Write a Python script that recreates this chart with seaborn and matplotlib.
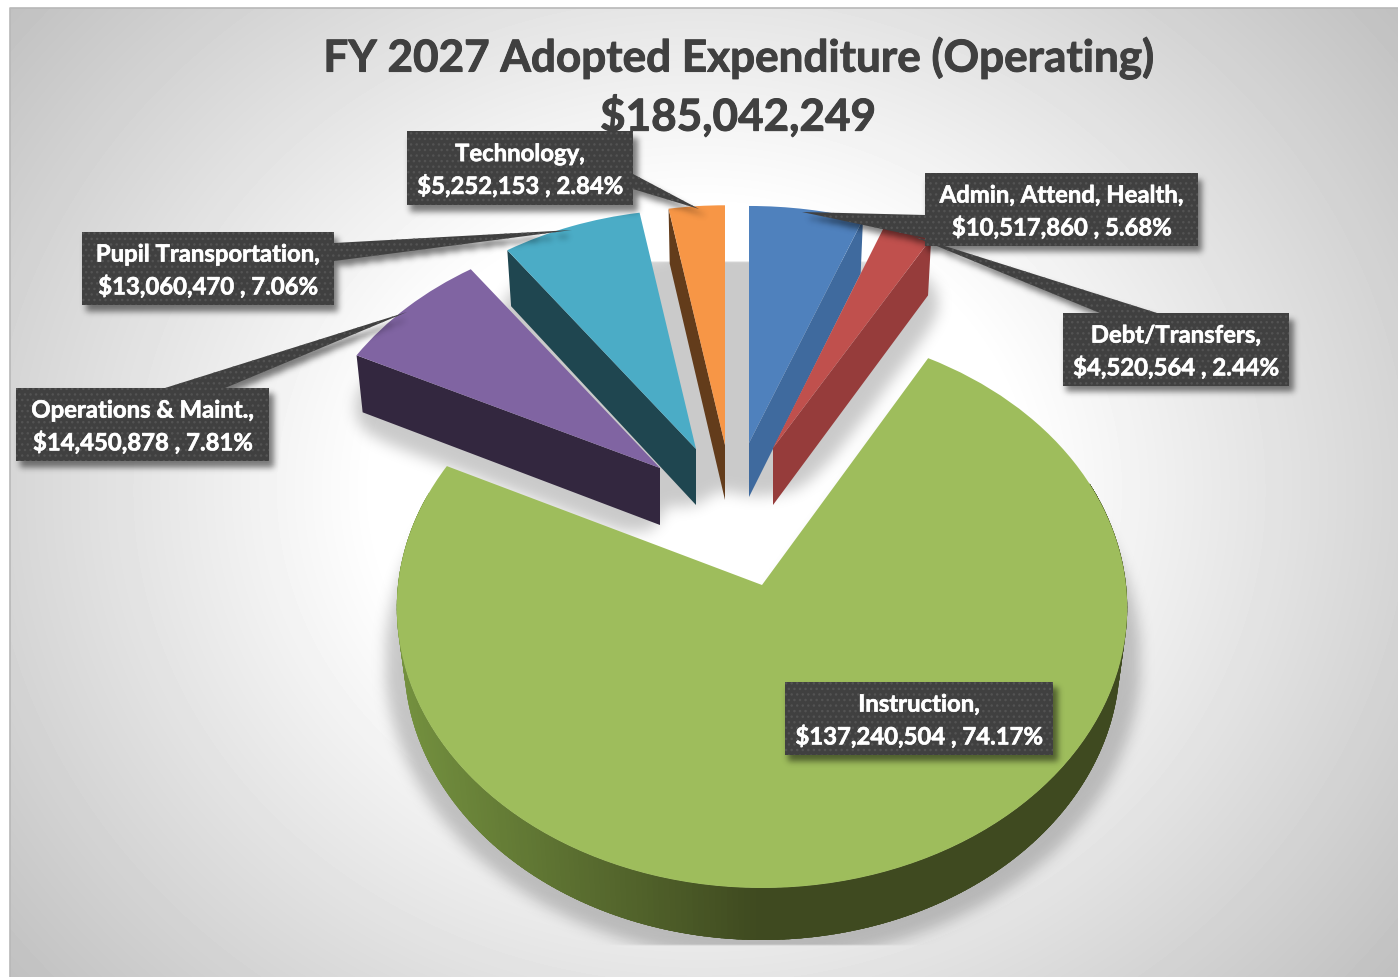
import numpy as np
import matplotlib
matplotlib.use('Agg')
import matplotlib.pyplot as plt
import matplotlib.patheffects as pe
import matplotlib.transforms as mtransforms
from matplotlib.path import Path
from matplotlib.patches import Polygon, Rectangle
import seaborn as sns

# Dados do gráfico (ordem horária a partir do topo)
categories = ['Admin, Attend, Health', 'Debt/Transfers', 'Instruction',
              'Operations & Maint.', 'Pupil Transportation', 'Technology']
amounts = [10517860, 4520564, 137240504, 14450878, 13060470, 5252153]
percents = [5.68, 2.44, 74.17, 7.81, 7.06, 2.84]
title_lines = ['FY 2027 Adopted Expenditure (Operating)', '$185,042,249']

# Cores
top_colors = ['#4f81bd', '#c0504d', '#9ebd5c', '#8064a2', '#4bacc6', '#f79646']
side_colors = ['#3f6a9e', '#963c3b', '#3f4a20', '#33273f', '#1f4650', '#633c1b']

# Layout em pixels: vértice de cada fatia, raios, perspectiva, profundidade
apex = [(749, 443), (773, 448), (762, 585), (660, 468), (696, 449), (725, 445)]
radius_x = [362, 357, 364, 356, 355, 355]
radius_y = [265, 265, 278.4, 268, 268, 268]
persp = [0.118, 0.118, 0.0811, 0.118, 0.118, 0.118]
depth = [54, 57, 52, 57, 56, 55]
draw_order = [10, 11, 9, 14, 13, 12]

# Caixas dos rótulos: (x0, y0, x1, y1) e ponta de cada balão
boxes = [(925, 173, 1198, 246), (1063, 313, 1289, 386), (785, 682, 1053, 755),
         (16, 388, 269, 461), (82, 232, 334, 305), (407, 131, 633, 205)]
tails = [[(802, 212), (925, 215), (925, 238)],
         [(910, 235), (1100, 313), (1157, 313)],
         None,
         [(407, 312), (165, 388), (225, 388)],
         [(572, 230), (334, 243), (334, 261)],
         [(699, 209), (633, 174), (633, 189)]]
box_order = [31, 30, 32, 33, 34, 35]


class Tilt(mtransforms.Transform):
    '''Leva o disco unitário do pie para a vista inclinada, em pixels'''
    input_dims = 2
    output_dims = 2

    def __init__(self, center, rx, ry, p, shrink=1.0, drop=0.0):
        super().__init__()
        self.center, self.rx, self.ry, self.p = center, rx, ry, p
        self.shrink, self.drop = shrink, drop

    def transform_non_affine(self, xy):
        xy = np.asarray(xy, dtype=float).reshape(-1, 2)
        w = 1 + self.p * xy[:, 1]
        return np.column_stack([
            self.center[0] + self.shrink * self.rx * xy[:, 0] / w,
            self.center[1] + self.drop - self.ry * xy[:, 1] / w])


def blur(a, sigma):
    n = int(3 * sigma) + 1
    k = np.exp(-0.5 * (np.arange(-n, n + 1) / sigma) ** 2)
    k /= k.sum()
    a = np.apply_along_axis(lambda r: np.convolve(r, k, mode='same'), 0, a)
    return np.apply_along_axis(lambda r: np.convolve(r, k, mode='same'), 1, a)


def unit(deg):
    t = np.radians(deg)
    return np.column_stack([np.cos(t), np.sin(t)])


sns.set_theme(style='white')
plt.rcParams['font.family'] = ['Lato', 'DejaVu Sans']

W, H = 1398, 977
fig = plt.figure(figsize=(W / 100, H / 100), dpi=100, facecolor='white')
ax = fig.add_axes([0, 0, 1, 1])

wedges, _ = ax.pie(amounts, startangle=90, counterclock=False, colors=top_colors,
                   frame=True, wedgeprops={'linewidth': 0})

# Fundo em gradiente
yy, xx = np.mgrid[8:H, 10:W]
dist = np.sqrt(((xx - 699) / 689) ** 2 + ((yy - 490) / 600) ** 2)
bg = np.clip(1.0 - 0.30 * np.clip(dist - 0.47, 0, None), 0, 1)
ax.imshow(bg, cmap='gray', vmin=0, vmax=1, extent=[10, W, H, 8], aspect='auto', zorder=0)
ax.plot([10, 10, W], [H, 8, 8], color='#b8b8b8', lw=1.2, zorder=0.5)

# Grade reduzida para as sombras
step = 2
gy, gx = np.mgrid[0:H:step, 0:W:step]
grid = np.column_stack([gx.ravel(), gy.ravel()])
pie_mask = np.zeros(gx.shape)

# Faces laterais e topo de cada fatia
for i, w in enumerate(wedges):
    top = Tilt(apex[i], radius_x[i], radius_y[i], persp[i])
    low = Tilt(apex[i], radius_x[i], radius_y[i], persp[i], shrink=0.98, drop=depth[i])
    w.set_transform(top + ax.transData)
    w.set_zorder(draw_order[i] + 0.5)
    w.set_clip_on(False)

    arc = unit(np.linspace(w.theta1, w.theta2, 240))
    origin = np.zeros((1, 2))
    outline = low.transform(np.vstack([origin, arc]))
    pie_mask += Path(outline).contains_points(grid).reshape(gx.shape)

    if i == 2:
        # Borda externa do Instruction com degradê
        c0 = np.array(matplotlib.colors.to_rgb('#74913f'))
        c1 = np.array(matplotlib.colors.to_rgb(side_colors[i]))
        edges = np.linspace(-200, 20, 260)
        # cada pedaço cobre o seguinte para não deixar emendas
        for a in edges[::-1]:
            seg = unit(np.linspace(a, 22, 40)) if a > 10 else unit(np.linspace(a, a + 3, 6))
            p_top = top.transform(seg)
            p_low = low.transform(seg)
            quad = np.vstack([p_top, p_low[::-1]])
            f = np.clip((quad[:, 0].mean() - 400) / 350, 0, 1)
            col = tuple(c0 + (c1 - c0) * f)
            ax.fill(quad[:, 0], quad[:, 1], color=col, lw=0, zorder=draw_order[i])
    else:
        # Face radial visível: direita nas duas primeiras, esquerda nas outras
        edge = w.theta1 if i < 2 else w.theta2
        e = np.vstack([origin, unit(np.array([edge]))])
        quad = np.vstack([top.transform(e), low.transform(e)[::-1]])
        ax.fill(quad[:, 0], quad[:, 1], color=side_colors[i], lw=0, zorder=draw_order[i])

# Sombra do pie, recortada como no original
mask = blur((blur((pie_mask > 0).astype(float), 8) > 0.1).astype(float), 3.5)
mask[gy[:, 0] < 262, :] = 0
mask[gy[:, 0] > 945, :] = 0
shadow = np.zeros(gx.shape + (4,))
shadow[..., 3] = 0.21 * mask
ax.imshow(shadow, extent=[0, W, H, 0], aspect='auto', zorder=1, interpolation='bilinear')

# Título
bold_title = [pe.withStroke(linewidth=0.7, foreground='#404040')]
bold_label = [pe.withStroke(linewidth=0.45, foreground='white')]
ax.text(738, 58, title_lines[0], fontsize=31.7, fontweight='bold', color='#404040',
        ha='center', va='center', zorder=5, path_effects=bold_title)
ax.text(738, 116, title_lines[1], fontsize=31.7, fontweight='bold', color='#404040',
        ha='center', va='center', zorder=5, path_effects=bold_title)

# Sombra das caixas
box_mask = np.zeros(gx.shape)
for b, t in zip(boxes, tails):
    rect = [(b[0], b[1]), (b[2], b[1]), (b[2], b[3]), (b[0], b[3])]
    box_mask += Path(np.array(rect) + [3, 5]).contains_points(grid).reshape(gx.shape)
    if t is not None:
        box_mask += Path(np.array(t) + [3, 5]).contains_points(grid).reshape(gx.shape)
box_shadow = np.zeros(gx.shape + (4,))
box_shadow[..., 3] = 0.5 * blur((box_mask > 0).astype(float), 1.5)
ax.imshow(box_shadow, extent=[0, W, H, 0], aspect='auto', zorder=20, interpolation='bilinear')

# Caixas e balões
for i, (b, t) in enumerate(zip(boxes, tails)):
    style = dict(facecolor='#404040', edgecolor='#535353', lw=0, hatch='...')
    if t is not None:
        ax.add_patch(Polygon(t, closed=True, zorder=box_order[i], **style))
    ax.add_patch(Rectangle((b[0], b[1]), b[2] - b[0], b[3] - b[1],
                           zorder=box_order[i], **style))
    ax.text((b[0] + b[2]) / 2, (b[1] + b[3]) / 2 + 2,
            f'{categories[i]},\n${amounts[i]:,} , {percents[i]:.2f}%',
            color='white', fontsize=17.2, fontweight='bold', ha='center', va='center',
            linespacing=1.4, zorder=box_order[i] + 0.5, path_effects=bold_label)

ax.set_aspect('auto')
ax.set_xlim(0, W)
ax.set_ylim(H, 0)
ax.axis('off')

fig.savefig('out.png', dpi=100, facecolor='white')
